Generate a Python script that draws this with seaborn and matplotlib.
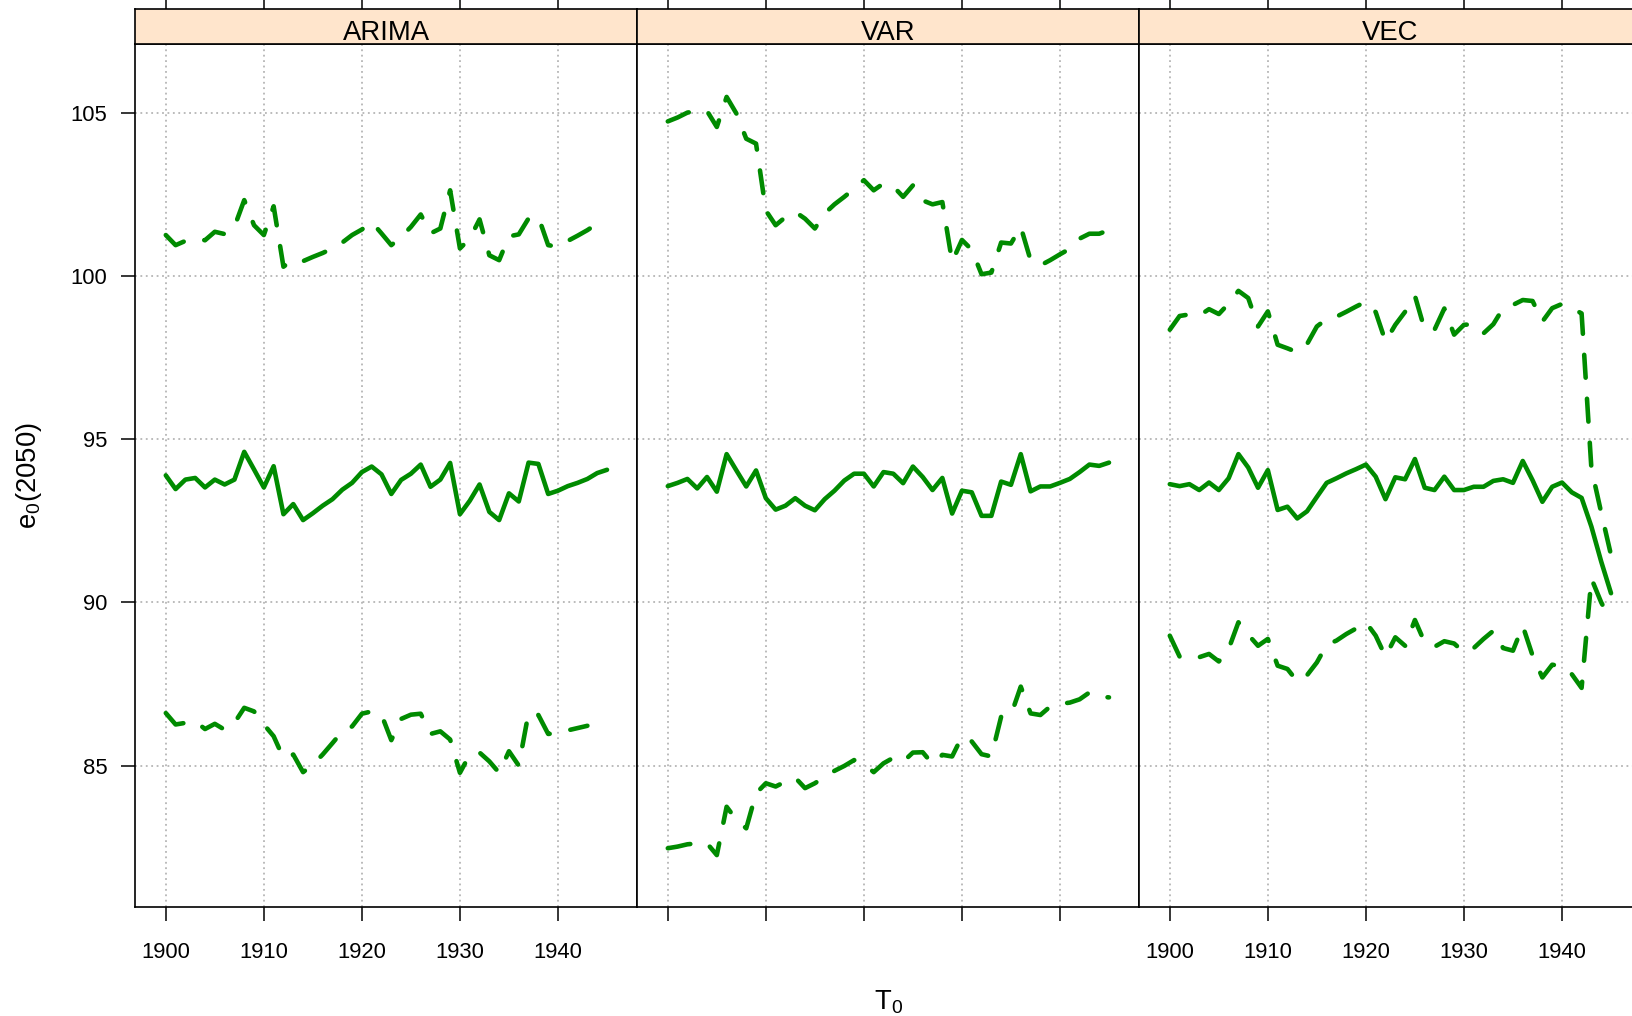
import matplotlib
matplotlib.use("Agg")
import matplotlib.pyplot as plt
import pandas as pd
import seaborn as sns

# ---------------------------------------------------------------------------
# Data: life expectancy at 2050 forecast by jump-off year T0, per model
# ---------------------------------------------------------------------------
years = list(range(1900, 1946))
models = ["ARIMA", "VAR", "VEC"]

arima_mean = [93.89, 93.47, 93.76, 93.81, 93.52, 93.76, 93.61, 93.76, 94.61, 94.07,
              93.52, 94.17, 92.70, 93.01, 92.52, 92.73, 92.96, 93.16, 93.45, 93.66,
              93.99, 94.16, 93.92, 93.32, 93.75, 93.94, 94.22, 93.54, 93.76, 94.27,
              92.70, 93.11, 93.61, 92.77, 92.52, 93.34, 93.09, 94.28, 94.24, 93.32,
              93.42, 93.56, 93.66, 93.78, 93.96, 94.06]
arima_upper = [101.25, 100.94, 101.07, 101.14, 101.09, 101.35, 101.28, 101.50, 102.32, 101.55,
               101.25, 102.13, 100.28, 100.50, 100.45, 100.58, 100.70, 100.84, 101.02, 101.25,
               101.42, 101.65, 101.30, 100.94, 101.19, 101.50, 101.88, 101.30, 101.45, 102.62,
               100.84, 101.14, 101.73, 100.63, 100.48, 101.21, 101.27, 101.76, 101.81, 100.94,
               100.89, 101.07, 101.23, 101.40, 101.60, 101.73]
arima_lower = [86.61, 86.26, 86.31, 86.36, 86.12, 86.28, 86.10, 86.31, 86.77, 86.66,
               86.26, 85.90, 85.23, 85.34, 84.80, 85.03, 85.34, 85.69, 86.05, 86.20,
               86.59, 86.66, 86.56, 85.78, 86.43, 86.56, 86.59, 85.97, 86.05, 85.80,
               84.78, 85.34, 85.40, 85.13, 84.78, 85.44, 85.00, 86.62, 86.55, 85.97,
               86.00, 86.08, 86.15, 86.22, None, None]

var_mean = [93.56, 93.66, 93.78, 93.49, 93.84, 93.39, 94.54, 94.04, 93.55, 94.04,
            93.19, 92.84, 92.96, 93.19, 92.96, 92.82, 93.16, 93.42, 93.73, 93.94,
            93.94, 93.55, 93.99, 93.94, 93.65, 94.16, 93.84, 93.44, 93.81, 92.72,
            93.42, 93.37, 92.65, 92.65, 93.70, 93.60, 94.54, 93.40, 93.55, 93.55,
            93.66, 93.78, 93.99, 94.22, 94.18, 94.28]
var_upper = [104.73, 104.85, 105.00, 105.05, 105.05, 104.56, 105.48, 104.97, 104.20, 104.05,
             102.00, 101.55, 101.80, 101.96, 101.75, 101.45, 101.91, 102.19, 102.42, 102.67,
             102.93, 102.62, 102.83, 102.74, 102.42, 102.77, 102.31, 102.19, 102.26, 100.43,
             101.10, 100.80, 100.05, 100.10, 101.02, 100.99, 101.50, 100.48, 100.32, 100.48,
             100.66, 100.83, 101.14, 101.29, 101.29, 101.40]
var_lower = [82.47, 82.52, 82.59, 82.62, 82.62, 82.26, 83.74, 83.34, 83.08, 84.15,
             84.46, 84.36, 84.51, 84.63, 84.31, 84.46, 84.66, 84.84, 84.99, 85.17,
             85.05, 84.80, 85.07, 85.24, 85.12, 85.40, 85.41, 85.05, 85.33, 85.28,
             85.89, 85.74, 85.35, 85.28, 86.50, 86.55, 87.42, 86.60, 86.55, 86.81,
             86.89, 86.93, 87.03, 87.24, 87.11, 87.09]

vec_mean = [93.62, 93.56, 93.62, 93.44, 93.67, 93.44, 93.80, 94.54, 94.13, 93.51,
            94.05, 92.83, 92.93, 92.57, 92.79, 93.23, 93.66, 93.80, 93.95, 94.08,
            94.22, 93.85, 93.16, 93.83, 93.77, 94.39, 93.51, 93.44, 93.85, 93.44,
            93.44, 93.54, 93.54, 93.72, 93.77, 93.66, 94.33, 93.74, 93.08, 93.54,
            93.67, 93.37, 93.20, 92.32, 91.25, 90.28]
vec_upper = [98.35, 98.77, 98.82, 98.78, 98.98, 98.83, 99.15, 99.54, 99.32, 98.45,
             98.91, 97.89, 97.78, 97.66, 97.91, 98.45, 98.68, 98.75, 98.90, 99.06,
             99.21, 98.89, 97.99, 98.50, 98.90, 99.39, 98.35, 98.35, 99.00, 98.20,
             98.50, 98.52, 98.24, 98.52, 99.01, 99.11, 99.26, 99.23, 98.60, 99.01,
             99.14, 99.01, 98.85, 94.10, 92.75, 91.45]
vec_lower = [88.98, 88.34, 88.26, 88.32, 88.42, 88.19, 88.57, 89.39, 89.01, 88.67,
             88.88, 88.06, 87.96, 87.58, 87.77, 88.16, 88.70, 88.83, 89.03, 89.20,
             89.39, 88.98, 88.34, 88.93, 88.67, 89.46, 88.77, 88.64, 88.81, 88.74,
             88.47, 88.60, 88.88, 89.13, 88.60, 88.52, 89.28, 88.37, 87.70, 88.09,
             88.05, 87.80, 87.38, 90.73, 90.00, 89.43]

xticks = [1900, 1910, 1920, 1930, 1940]
yticks = [85, 90, 95, 100, 105]

GREEN = "#008B00"
STRIP_BG = "#FFE5CC"
GRID_COL = "#B5B5B5"

# ---------------------------------------------------------------------------
# Style
# ---------------------------------------------------------------------------
sns.set_style("white")
plt.rcParams.update({
    "mathtext.fontset": "custom",
    "mathtext.rm": "Liberation Sans",
    "mathtext.it": "Liberation Sans:italic",
    "mathtext.default": "regular",
    "axes.edgecolor": "black",
    "xtick.color": "black",
    "ytick.color": "black",
    "text.color": "black",
})
plt.rcParams["font.family"] = ["Liberation Sans", "DejaVu Sans"]

# Long-format table: one row per (model, band, year)
bands_by_model = {
    "ARIMA": {"mean": arima_mean, "upper": arima_upper, "lower": arima_lower},
    "VAR": {"mean": var_mean, "upper": var_upper, "lower": var_lower},
    "VEC": {"mean": vec_mean, "upper": vec_upper, "lower": vec_lower},
}
frames = []
for model, bands in bands_by_model.items():
    for band, vals in bands.items():
        frames.append(pd.DataFrame({"year": years, "e0": vals,
                                    "model": model, "band": band}))
df = pd.concat(frames, ignore_index=True)
df["e0"] = pd.to_numeric(df["e0"])
df = df.dropna()

# ---------------------------------------------------------------------------
# Figure layout (pixel geometry of a lattice-style 3-panel row)
# ---------------------------------------------------------------------------
W, H = 1633, 1016
fig = plt.figure(figsize=(W / 100, H / 100), dpi=100)


def box(x, top, w, h):
    return [x / W, 1 - (top + h) / H, w / W, h / H]


PANEL_W = 502
LEFTS = [135.4, 637.4, 1139.4]
P_TOP, P_BOT = 43.7, 907.0
S_TOP = 9.4
XLIM = (1896.9, 1948.1)
YLIM = (80.67, 107.11)
TICK_LEN = 10
TICK_W = 1.1
FRAME_W = 1.2

for i, model in enumerate(models):
    ax = fig.add_axes(box(LEFTS[i], P_TOP, PANEL_W, P_BOT - P_TOP))
    sub = df[df["model"] == model]
    sns.lineplot(data=sub, x="year", y="e0", style="band",
                 style_order=["mean", "upper", "lower"],
                 dashes={"mean": "", "upper": (5, 4.6), "lower": (5, 4.6)},
                 color=GREEN, lw=3.3, estimator=None, legend=False,
                 sort=True, ax=ax)
    for ln in ax.lines:
        ln.set_dash_capstyle("round")
        ln.set_solid_capstyle("round")
        ln.set_dash_joinstyle("round")
        ln.set_solid_joinstyle("round")

    ax.set_xlim(XLIM)
    ax.set_ylim(YLIM)
    ax.set_xticks(xticks)
    ax.set_yticks(yticks)
    ax.set_xlabel("")
    ax.set_ylabel("")
    ax.set_axisbelow(True)
    ax.grid(True, color=GRID_COL, linestyle=(0, (1, 2.0)), linewidth=1.3)
    for sp in ax.spines.values():
        sp.set_visible(True)
        sp.set_color("black")
        sp.set_linewidth(FRAME_W)

    ax.tick_params(axis="x", bottom=True, top=False, direction="out",
                   length=TICK_LEN, width=TICK_W, labelsize=15.8, pad=15.5,
                   labelbottom=(model != "VAR"))
    ax.tick_params(axis="y", left=(i == 0), right=False, direction="out",
                   length=TICK_LEN, width=TICK_W, labelsize=15.8, pad=10.2,
                   labelleft=(i == 0))

    # Strip with the panel title and the top axis ticks
    sax = fig.add_axes(box(LEFTS[i], S_TOP, PANEL_W, P_TOP - S_TOP))
    sax.set_facecolor(STRIP_BG)
    sax.set_xlim(XLIM)
    sax.set_ylim(0, 1)
    sax.set_xticks(xticks)
    sax.set_yticks([])
    sax.tick_params(axis="x", top=True, bottom=False, labeltop=False,
                    labelbottom=False, direction="out",
                    length=TICK_LEN, width=TICK_W)
    for sp in sax.spines.values():
        sp.set_visible(True)
        sp.set_color("black")
        sp.set_linewidth(FRAME_W)
    sax.text(0.5, 0.108, model, transform=sax.transAxes, ha="center",
             va="baseline", fontsize=19.8)

fig.text(888.4 / W, 1 - 1010 / H, r"$T_0$", ha="center", va="baseline",
         fontsize=19.8)
fig.text(29 / W, 1 - 476 / H, r"$e_0(2050)$", rotation=90, ha="center",
         va="center", fontsize=19.8)

fig.savefig("out.png", dpi=100)
